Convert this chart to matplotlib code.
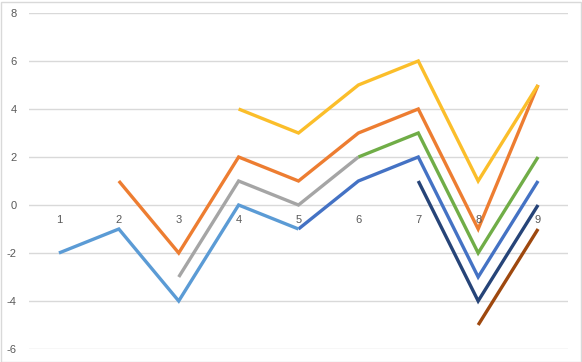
import numpy as np
import matplotlib
matplotlib.use("Agg")
import matplotlib.pyplot as plt

nan = np.nan

categories = [1, 2, 3, 4, 5, 6, 7, 8, 9]

# one list per series, nan where the series has no value
blue = [nan, nan, nan, nan, -1, 1, 2, -3, 1]
orange = [nan, 1, -2, 2, 1, 3, 4, -1, 5]
gray = [nan, nan, -3, 1, 0, 2, nan, nan, nan]
yellow = [nan, nan, nan, 4, 3, 5, 6, 1, 5]
light_blue = [-2, -1, -4, 0, -1, nan, nan, nan, nan]
green = [nan, nan, nan, nan, nan, 2, 3, -2, 2]
navy = [nan, nan, nan, nan, nan, nan, 1, -4, 0]
brown = [nan, nan, nan, nan, nan, nan, nan, -5, -1]

y_ticks = [-6, -4, -2, 0, 2, 4, 6, 8]

series = [
    (blue, "#4472C4"),
    (orange, "#ED7D31"),
    (gray, "#A5A5A5"),
    (yellow, "#FBBE2A"),
    (light_blue, "#5B9BD5"),
    (green, "#70AD47"),
    (navy, "#264478"),
    (brown, "#9E480E"),
]

fig = plt.figure(figsize=(5.82, 3.62), dpi=100)
ax = fig.add_axes([29 / 582, 13 / 362, 539 / 582, 336 / 362])

for vals, col in series:
    ax.plot(categories, vals, color=col, lw=2.4, solid_capstyle="butt",
            solid_joinstyle="miter")

ax.set_xlim(0.5, 9.5)
ax.set_ylim(-6, 8)
ax.set_yticks(y_ticks)
ax.set_yticklabels([str(t) for t in y_ticks], color="#595959", fontsize=8,
                   family="Liberation Sans")
ax.tick_params(axis="y", length=0, pad=9)
ax.set_xticks([])
ax.grid(axis="y", color="#D9D9D9", lw=1)
ax.set_axisbelow(True)
for s in ax.spines.values():
    s.set_visible(False)

# category labels sit just under the zero line
for c in categories:
    ax.text(c, -0.62, str(c), ha="center", va="center", color="#595959",
            fontsize=8, family="Liberation Sans")

# chart area border
fig.patches.append(plt.Rectangle((0.5 / 582, 0.5 / 362), 580 / 582, 360 / 362,
                                 transform=fig.transFigure, fill=False,
                                 edgecolor="#D9D9D9", lw=1))

fig.savefig("out.png", dpi=100)
